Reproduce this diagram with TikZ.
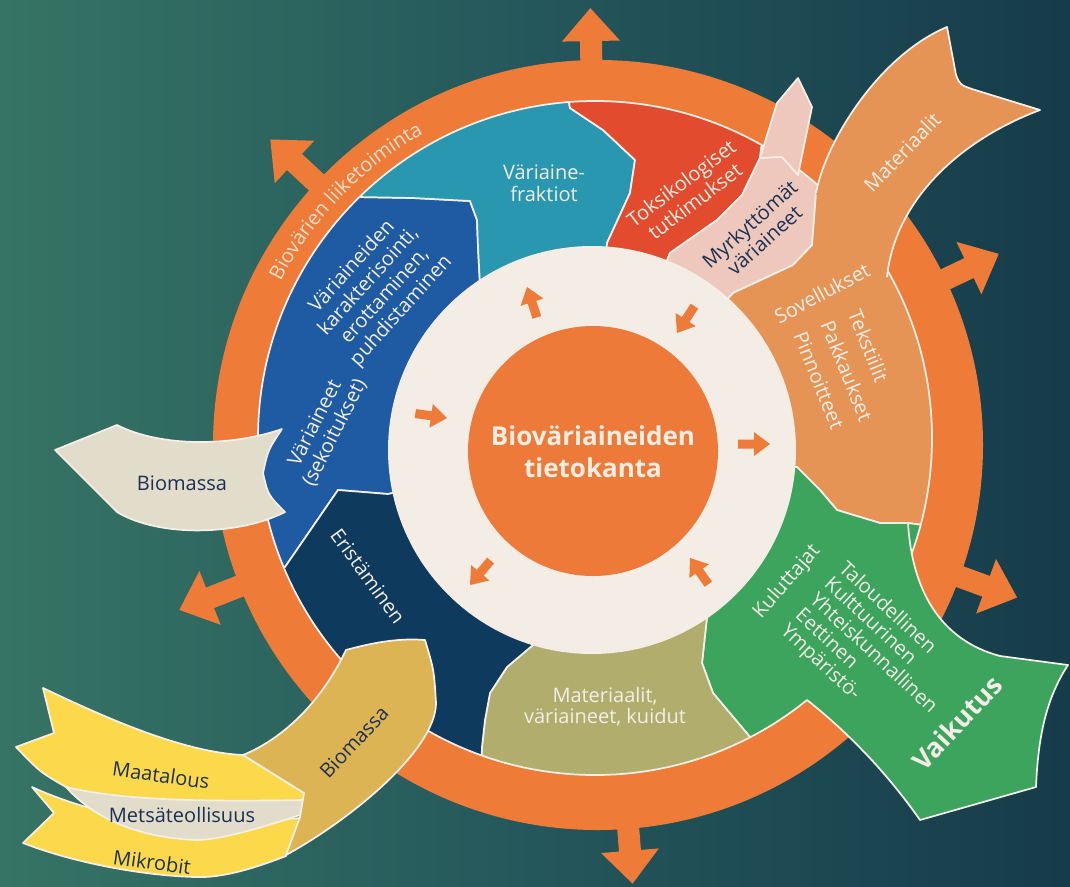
\documentclass[tikz,border=0pt]{standalone}
\usepackage{fontspec}
\setmainfont{Open Sans}
\usetikzlibrary{decorations.text}

\definecolor{bgL}{HTML}{367464}
\definecolor{bgM}{HTML}{24575B}
\definecolor{bgR}{HTML}{163B4A}
\definecolor{ringor}{HTML}{EE7B38}
\definecolor{hubor}{HTML}{EE7A3A}
\definecolor{creamc}{HTML}{F3EDE6}
\definecolor{cTeal}{HTML}{2997AF}
\definecolor{cBlue}{HTML}{1F5BA2}
\definecolor{cNavy}{HTML}{0E3A5D}
\definecolor{cRed}{HTML}{E24B2D}
\definecolor{cPink}{HTML}{EEC8BC}
\definecolor{cSov}{HTML}{E69456}
\definecolor{cGreen}{HTML}{3DA45E}
\definecolor{cOlive}{HTML}{B1AE6D}
\definecolor{cBeige}{HTML}{E2DCCB}
\definecolor{cGold}{HTML}{DDB453}
\definecolor{cYellow}{HTML}{FCD94A}
\definecolor{outl}{HTML}{F4EFE8}
\definecolor{txtW}{HTML}{F3EEE6}
\definecolor{txtN}{HTML}{1B3154}
\definecolor{ringtxt}{HTML}{F7E0CC}
\definecolor{titletxt}{HTML}{F6EDE3}

\newcommand\lblfont{\fontsize{15}{16.5}\selectfont}
\newcommand\ringfont{\fontsize{15}{15}\selectfont}
\newcommand\titlefont{\fontsize{19.5}{24}\selectfont\bfseries}

\begin{document}
\begin{tikzpicture}[x=0.75pt,y=-0.75pt,
  seg/.style={draw=outl, line width=1.3pt, line join=round},
  rimline/.style={draw=outl, line width=1.3pt, line join=round},
  lbl/.style={font=\lblfont, text=txtW, align=center, inner sep=0pt},
  lbln/.style={lbl, text=txtN}]
\useasboundingbox (0,0) rectangle (1070,886);
\shade[left color=bgL, right color=bgR, middle color=bgM] (0,0) rectangle (1070,886);

% orange rim with outward arrows
\coordinate (rc) at (598,445);
\fill[ringor] (rc) circle[radius=385];
\foreach \a/\r in {91/437,137/448,201.5/450,274.5/440,340/446,25.5/444}{
  \fill[ringor, shift={(rc)}, rotate=\a] (360,-11) -- ({\r-33},-11) -- ({\r-33},-29)
    -- (\r,0) -- ({\r-33},29) -- ({\r-33},11) -- (360,11) -- cycle;
}

% sectors between hub and rim
\begin{scope}
  \clip (595,438) circle[radius=337];
  \filldraw[seg, fill=cBlue] (592,450) -- (388,494) -- (338,490) -- (285,567) -- (240,590)
    -- (175,438) -- (200,294) -- (340,180) -- (357,197) -- (413,198) -- (470,201)
    -- (477,220) -- (478,247) -- (480,285) -- cycle;
  \filldraw[seg, fill=cTeal] (592,450) -- (480,285) -- (478,247) -- (477,220) -- (470,201)
    -- (413,198) -- (357,197) -- (340,180) -- (417,57) -- (565,80) -- (570,108)
    -- (603,130) -- (635,160) -- (630,193) -- (607,243) -- cycle;
  \filldraw[seg, fill=cRed] (592,450) -- (607,243) -- (630,193) -- (635,160) -- (603,130)
    -- (570,108) -- (565,80) -- (682,27) -- (765,120) -- (760,158) -- (742,195)
    -- (717,220) -- (670,253) -- cycle;
  \filldraw[seg, fill=cPink] (592,450) -- (670,253) -- (717,220) -- (742,195) -- (760,158)
    -- (765,120) -- (830,90) -- (830,150) -- (816,193) -- (812,245) -- (793,265)
    -- (733,293) -- cycle;
  \filldraw[seg, fill=cSov] (592,450) -- (733,293) -- (793,265) -- (812,245) -- (816,193)
    -- (830,150) -- (959,228) -- (1013,401) -- (960,530) -- (908,523) -- (880,523)
    -- (837,510) -- (820,490) -- (797,467) -- cycle;
  \filldraw[seg, fill=cGreen] (592,450) -- (797,467) -- (820,490) -- (837,510) -- (880,523)
    -- (908,523) -- (960,530) -- (917,708) -- (770,790) -- (750,737) -- (713,693)
    -- (702,663) -- (707,617) -- cycle;
  \filldraw[seg, fill=cOlive] (592,450) -- (707,617) -- (702,663) -- (713,693) -- (750,737)
    -- (770,790) -- (624,857) -- (480,800) -- (482,747) -- (485,720) -- (490,693)
    -- (507,667) -- (533,645) -- cycle;
  \filldraw[seg, fill=cNavy] (592,450) -- (533,645) -- (507,667) -- (490,693) -- (485,720)
    -- (482,747) -- (480,800) -- (314,750) -- (240,590) -- (285,567) -- (338,490)
    -- (388,494) -- cycle;
\end{scope}
\draw[seg] (595,438) circle[radius=337];

% hub
\fill[creamc] (592,450) circle[radius=204];
\fill[hubor] (593,451) circle[radius=125];
\node[font=\titlefont, text=titletxt, align=center] (hub) at (593,452) {Bioväriaineiden\\tietokanta};
\foreach \x/\y/\a in {527/287/108, 677/333/237, 447/418/-8, 770/444/0, 470/585/230, 690/558/125}{
  \fill[ringor, shift={(\x,\y)}, rotate=\a] (0,0) -- (-16,-12) -- (-16,-4.5) -- (-32,-4.5)
    -- (-32,4.5) -- (-16,4.5) -- (-16,12) -- cycle;
}

% ribbons leaving the rim
\filldraw[seg, fill=cPink] (760,158) -- (777,103) -- (798,78) -- (812,107) -- (798,175) -- (782,157) -- cycle;

\fill[cSov] (816,193) .. controls (826,140) and (880,55) .. (947,27) -- (956,75)
  .. controls (960,85) .. (975,90) -- (1040,110) .. controls (960,140) and (895,200) .. (887,277)
  -- (840,270) -- (825,220) -- cycle;
\draw[rimline] (816,193) .. controls (826,140) and (880,55) .. (947,27) -- (956,75)
  .. controls (960,85) .. (975,90) -- (1040,110) .. controls (960,140) and (895,200) .. (887,277);

\fill[cGreen] (908,523) .. controls (912,590) and (940,640) .. (1000,656) -- (1068,665)
  .. controls (1045,700) and (1038,740) .. (1036,787) -- (920,820)
  .. controls (885,770) and (845,730) .. (807,700) -- (800,620) -- (880,540) -- cycle;
\draw[rimline] (908,523) .. controls (912,590) and (940,640) .. (1000,656) -- (1068,665)
  .. controls (1045,700) and (1038,740) .. (1036,787) -- (920,820)
  .. controls (885,770) and (845,730) .. (807,700);

% incoming biomass ribbons
\filldraw[seg, fill=cBeige] (55,450) -- (117,425) .. controls (160,447) and (230,447) .. (282,429)
  .. controls (268,450) .. (263,473) .. controls (268,495) .. (285,512)
  .. controls (240,535) and (160,538) .. (117,512) -- cycle;

\filldraw[seg, fill=cYellow] (43,688) .. controls (100,715) and (180,752) .. (243,755)
  -- (304,793) -- (303,806) -- (150,808) -- (66,787) .. controls (40,772) .. (16,747)
  -- (54,733) -- cycle;
\filldraw[seg, fill=cYellow] (32,787) .. controls (60,800) and (120,822) .. (200,826)
  -- (300,818) -- (286,856) .. controls (250,870) and (220,878) .. (196,877)
  .. controls (150,876) and (80,865) .. (23,843) -- (54,813) -- cycle;
\filldraw[seg, fill=cBeige] (66,787) .. controls (120,800) and (200,802) .. (303,800)
  -- (300,815) .. controls (260,828) and (220,840) .. (196,840)
  .. controls (150,838) and (100,825) .. (66,787) -- cycle;
\filldraw[seg, fill=cGold] (346,650) .. controls (375,642) and (400,638) .. (425,640)
  .. controls (434,670) .. (436,703) .. controls (436,750) and (350,820) .. (286,855)
  -- (300,817) -- (304,793) -- (243,755) .. controls (280,740) and (320,705) .. (346,650) -- cycle;

% rim caption
\path[decorate, decoration={text along path, text align=center,
  text={|\ringfont\color{ringtxt}|Biovärien liiketoiminta}}]
  (267,311.3) arc[start angle=158, end angle=114, radius=267.75pt];

% labels
\node[lbl] (fraktiot) at (544,183) {Väriaine-\\fraktiot};
\node[lbl, rotate=37, font=\fontsize{15}{17}\selectfont] (toks) at (688,192) {Toksikologiset\\tutkimukset};
\node[lbln, rotate=42] (myrk) at (757,232) {Myrkyttömät\\väriaineet};
\node[lbl, rotate=46] (mat) at (902,152) {Materiaalit};
\node[lbl, rotate=28] (sov) at (822,293) {Sovellukset};
\node[lbl, rotate=-68, align=left, font=\fontsize{15}{22}\selectfont] (sovlist) at (847,371) {Tekstiilit\\Pakkaukset\\Pinnoitteet};
\node[lbl, rotate=49] (kul) at (787,582) {Kuluttajat};
\node[lbl, rotate=-43, align=left, font=\fontsize{15}{16}\selectfont] (vaiklist) at (873,654) {Taloudellinen\\Kulttuurinen\\Yhteiskunnallinen\\Eettinen\\Ympäristö-};
\node[lbl, rotate=47, font=\fontsize{20}{20}\selectfont\bfseries] (vaik) at (957,723) {Vaikutus};
\node[lbl, font=\fontsize{15}{15.5}\selectfont] (matvar) at (605,707) {Materiaalit,\\väriaineet, kuidut};
\node[lbl, rotate=-54] (erist) at (368,576) {Eristäminen};
\node[lbl, rotate=63] (sekoit) at (325,428) {Väriaineet\\(sekoitukset)};
\node[lbl, rotate=48] (karak) at (377,289) {Väriaineiden\\karakterisointi,\\erottaminen,\\puhdistaminen};
\node[lbln] (bio1) at (182,483) {Biomassa};
\node[lbln, rotate=47] (bio2) at (354,742) {Biomassa};
\node[lbln, rotate=-8] (maa) at (161,775) {Maatalous};
\node[lbln] (mets) at (182,815) {Metsäteollisuus};
\node[lbln, rotate=-8] (mikro) at (152,862) {Mikrobit};
\end{tikzpicture}
\end{document}
